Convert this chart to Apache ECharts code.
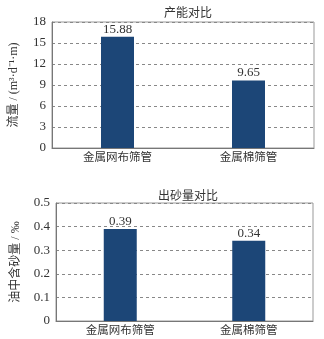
<!DOCTYPE html>
<html><head><meta charset="utf-8">
<script src="https://cdn.jsdelivr.net/npm/echarts@6/dist/echarts.min.js"></script>
<style>html,body{margin:0;padding:0;background:#fff}#c{width:324px;height:339px}</style>
</head><body><div id="c"></div>
<script>
const categories = ['金属网布筛管', '金属棉筛管'];
const capacity = [15.88, 9.65];
const sand = [0.39, 0.34];
const title1 = '产能对比';
const title2 = '出砂量对比';
const yName1 = '流量 / (m³·d⁻¹·m)';
const yName2 = '油中含砂量 / ‰';

const FONT = '"Liberation Serif","Noto Sans CJK SC",serif';
const TXT = '#333';
const BAR = '#1c4677';
const chart = echarts.init(document.getElementById('c'), null, {renderer: 'canvas'});
function yAxis(idx, max, interval, name, nameGap, fmt) {
  return {
    gridIndex: idx, type: 'value', min: 0, max: max, interval: interval,
    name: name, nameLocation: 'middle', nameGap: nameGap, nameRotate: 90,
    nameTextStyle: {fontFamily: FONT, fontSize: 12, color: TXT},
    axisLine: {show: true, lineStyle: {color: '#777', width: 1}},
    axisTick: {show: false},
    axisLabel: {fontFamily: FONT, fontSize: 13, color: TXT, margin: 6, formatter: fmt},
    splitLine: {show: true, lineStyle: {color: '#888', type: [3, 3], width: 1}}
  };
}
function xAxis(idx) {
  return {
    gridIndex: idx, type: 'category', data: categories,
    axisLine: {show: true, lineStyle: {color: '#777', width: 1}},
    axisTick: {show: false},
    axisLabel: {fontFamily: FONT, fontSize: 11.5, color: TXT, margin: 4}
  };
}
chart.setOption({
  animation: false,
  title: [
    {text: title1, left: 183, top: 3, textAlign: 'center', textStyle: {fontFamily: FONT, fontSize: 12, fontWeight: 'normal', color: TXT}},
    {text: title2, left: 183, top: 186, textAlign: 'center', textStyle: {fontFamily: FONT, fontSize: 12, fontWeight: 'normal', color: TXT}}
  ],
  grid: [
    {left: 52, right: 10, top: 22, height: 126, show: true, borderColor: '#999', borderWidth: 1},
    {left: 56, right: 11, top: 203, height: 118, show: true, borderColor: '#999', borderWidth: 1}
  ],
  xAxis: [xAxis(0), xAxis(1)],
  yAxis: [
    yAxis(0, 18, 3, yName1, 32, v => String(v)),
    yAxis(1, 0.5, 0.1, yName2, 34, v => v === 0 ? '0' : v.toFixed(1))
  ],
  series: [
    {type: 'bar', xAxisIndex: 0, yAxisIndex: 0, data: capacity, barWidth: 33, itemStyle: {color: BAR},
     label: {show: true, position: 'top', distance: 1, fontFamily: FONT, fontSize: 13, color: TXT, formatter: p => p.value.toFixed(2)}},
    {type: 'bar', xAxisIndex: 1, yAxisIndex: 1, data: sand, barWidth: 33, itemStyle: {color: BAR},
     label: {show: true, position: 'top', distance: 1, fontFamily: FONT, fontSize: 13, color: TXT, formatter: p => p.value.toFixed(2)}}
  ]
});
</script></body></html>
